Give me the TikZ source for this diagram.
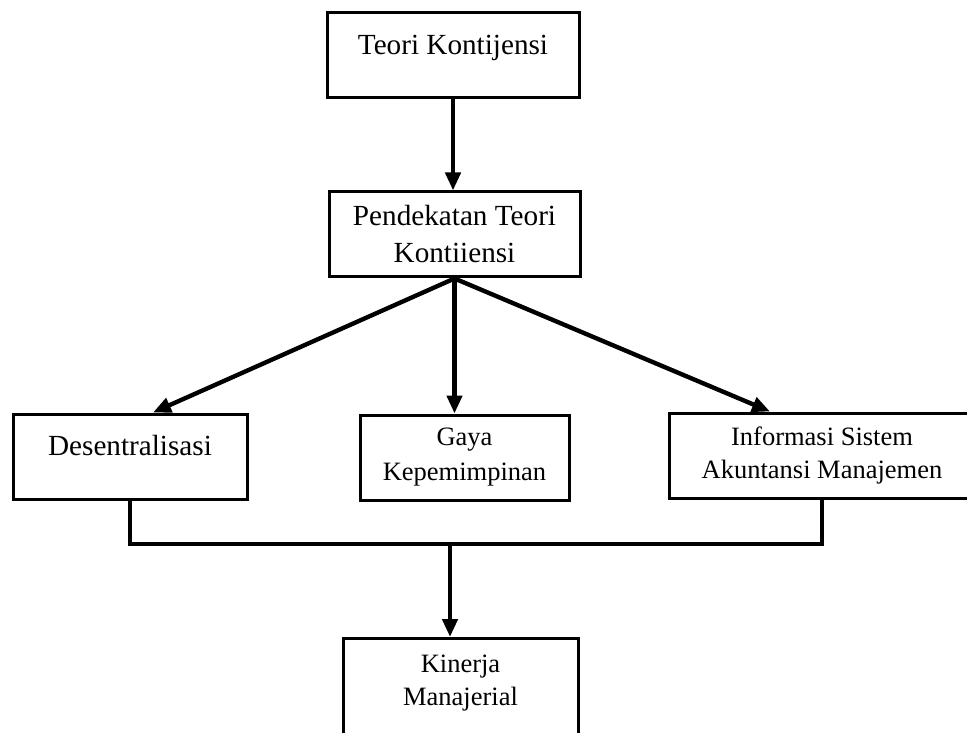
\documentclass[tikz,border=0pt]{standalone}
\usepackage{fontspec}
\setmainfont{Liberation Serif}
\usetikzlibrary{positioning,arrows.meta}

\begin{document}
\begin{tikzpicture}[x=0.5pt, y=-0.5pt,
  >={Triangle[length=9pt,width=7.5pt]},
  blok/.style={draw,line width=1.5pt,align=center,minimum height=42.5pt,inner sep=2pt},
  besar/.style={font=\fontsize{14.6}{18.5}\selectfont},
  kecil/.style={font=\fontsize{13.25}{16.5}\selectfont},
  panah/.style={->,line width=2.2pt}
]
\useasboundingbox (0,0) rectangle (967,732);
\clip (0,0) rectangle (967,732);
\node[blok,besar,minimum width=126pt,text depth=11pt] (teori) at (453,55.5) {Teori Kontijensi};
\node[blok,besar,minimum width=125.5pt] (pend) at (454.5,234.5) {Pendekatan Teori\\Kontiiensi};
\node[blok,besar,minimum width=117pt,text depth=11pt] (desen) at (130,456.5) {Desentralisasi};
\node[blok,kecil,minimum width=104.5pt,font=\fontsize{13.25}{17.5}\selectfont] (gaya) at (464.5,457.5) {Gaya\\Kepemimpinan};
\node[blok,kecil,minimum width=153pt] (info) at (822,455.5) {Informasi Sistem\\Akuntansi Manajemen};
\node[blok,kecil,minimum width=117.5pt,minimum height=63pt,anchor=north] (kin) at (460.5,637) {Kinerja\\Manajerial\\\strut};
\draw[panah] (teori.south) -- (teori.south |- pend.north);
\draw[panah] (pend.south) -- ([xshift=11.5pt]desen.north);
\draw[panah] (pend.south) -- (pend.south |- gaya.north);
\draw[panah] (pend.south) -- ([xshift=-26pt]info.north);
\coordinate (temu) at (450,544);
\draw[line width=2.2pt] (desen.south) |- (temu) -| (info.south);
\draw[panah] (temu) -- (temu |- kin.north);
\end{tikzpicture}
\end{document}
